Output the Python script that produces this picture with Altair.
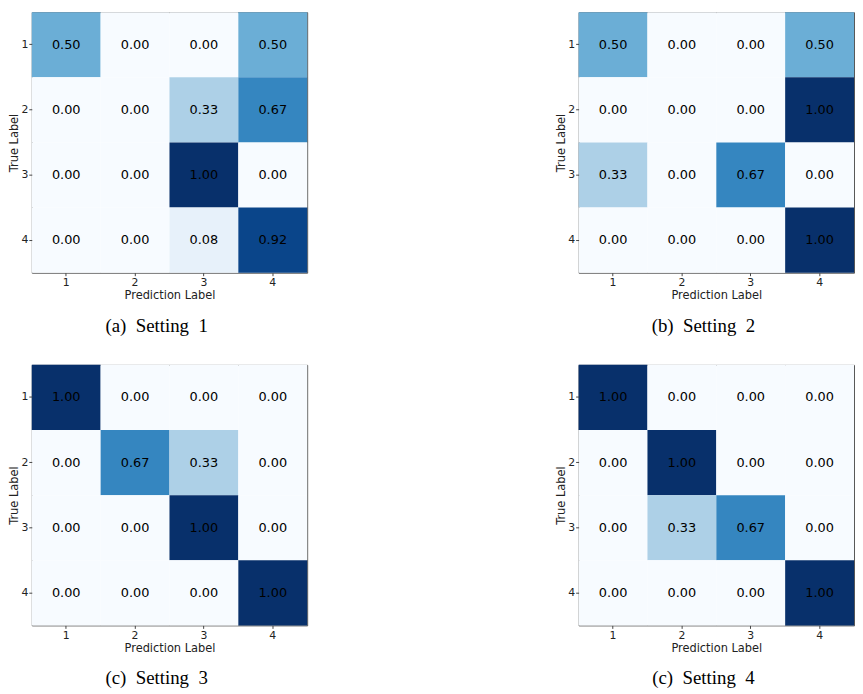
import altair as alt
import pandas as pd

labels = [1, 2, 3, 4]
captions = ["(a)\u00a0 Setting\u00a0 1", "(b)\u00a0 Setting\u00a0 2",
            "(c)\u00a0 Setting\u00a0 3", "(c)\u00a0 Setting\u00a0 4"]

setting1 = [[0.50, 0.00, 0.00, 0.50],
            [0.00, 0.00, 0.33, 0.67],
            [0.00, 0.00, 1.00, 0.00],
            [0.00, 0.00, 0.08, 0.92]]
setting2 = [[0.50, 0.00, 0.00, 0.50],
            [0.00, 0.00, 0.00, 1.00],
            [0.33, 0.00, 0.67, 0.00],
            [0.00, 0.00, 0.00, 1.00]]
setting3 = [[1.00, 0.00, 0.00, 0.00],
            [0.00, 0.67, 0.33, 0.00],
            [0.00, 0.00, 1.00, 0.00],
            [0.00, 0.00, 0.00, 1.00]]
setting4 = [[1.00, 0.00, 0.00, 0.00],
            [0.00, 1.00, 0.00, 0.00],
            [0.00, 0.33, 0.67, 0.00],
            [0.00, 0.00, 0.00, 1.00]]

blues = ["#f7fbff", "#deebf7", "#c6dbef", "#9ecae1", "#6baed6",
         "#4292c6", "#2171b5", "#08519c", "#08306b"]
blues_domain = [i / 8 for i in range(9)]

W, H = 278, 263


def panel(mat, caption):
    rows = []
    for i, t in enumerate(labels):
        for j, p in enumerate(labels):
            rows.append({"true": t, "pred": p, "v": mat[i][j]})
    df = pd.DataFrame(rows)
    base = alt.Chart(df).encode(
        x=alt.X("pred:O", title="Prediction Label",
                scale=alt.Scale(paddingInner=0, paddingOuter=0),
                axis=alt.Axis(labelAngle=0, labelPadding=1, titlePadding=2)),
        y=alt.Y("true:O", title="True Label",
                scale=alt.Scale(paddingInner=0, paddingOuter=0),
                axis=alt.Axis(labelPadding=1, titlePadding=1)),
    )
    rect = base.mark_rect().encode(
        color=alt.Color("v:Q", legend=None,
                        scale=alt.Scale(domain=blues_domain, range=blues))
    )
    text = base.mark_text(font="DejaVu Sans", fontSize=13, color="black").encode(
        text=alt.Text("v:Q", format=".2f")
    )
    return alt.layer(rect, text).properties(
        width=W, height=H,
        title=alt.TitleParams(caption, orient="bottom", font="Liberation Serif",
                              fontSize=19, fontWeight="normal", color="black",
                              anchor="middle", frame="group", dx=-13, offset=16)
    )


row1 = alt.hconcat(panel(setting1, captions[0]), panel(setting2, captions[1]), spacing=249)
row2 = alt.hconcat(panel(setting3, captions[2]), panel(setting4, captions[3]), spacing=249)
chart = alt.vconcat(row1, row2, spacing=28).properties(
    padding={"left": 0, "top": 0, "right": 0, "bottom": 0}
).configure_view(
    stroke="#555555", strokeWidth=1
).configure_axis(
    labelFont="DejaVu Sans", titleFont="DejaVu Sans", labelFontSize=11,
    titleFontSize=11.5, titleFontWeight="normal", labelColor="#222222",
    titleColor="#222222", domain=False, tickSize=3, tickColor="#444444",
    grid=False
)

chart.save("out.html", embed_options={"renderer": "svg", "actions": False})
